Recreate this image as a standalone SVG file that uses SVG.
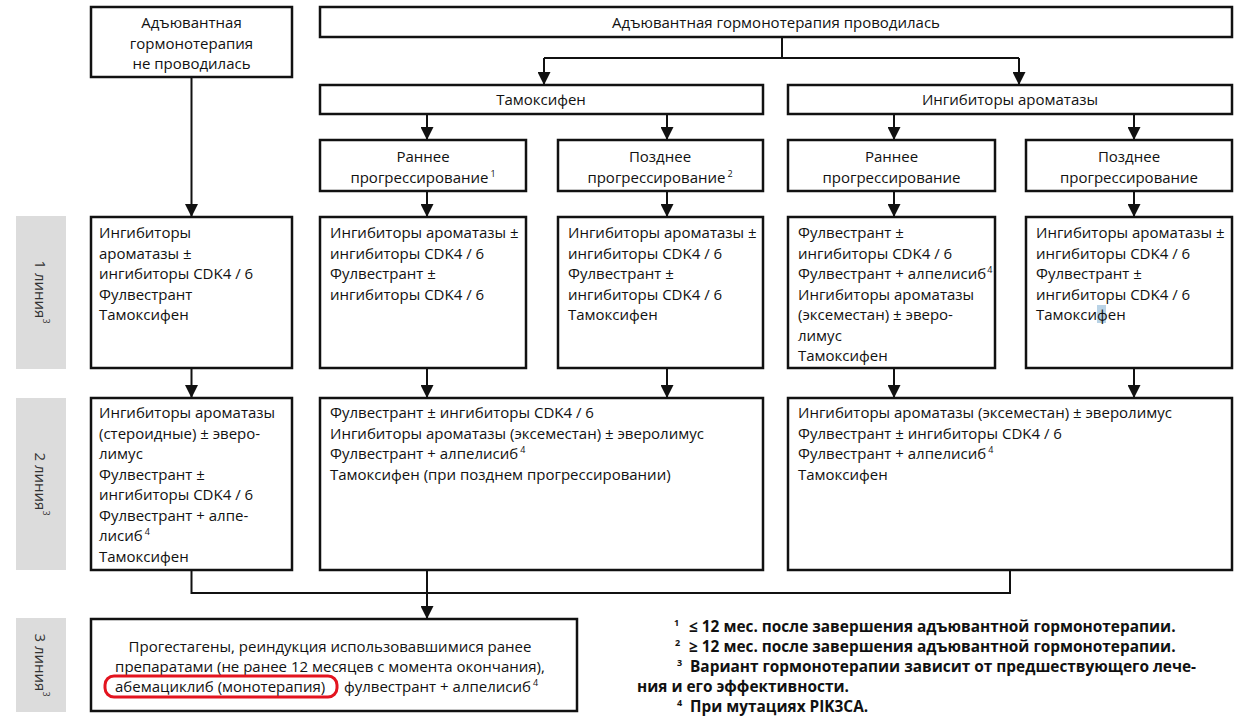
<svg xmlns="http://www.w3.org/2000/svg" width="1248" height="726" viewBox="0 0 1248 726">
<style>
.bg{fill:#ffffff}
.box{fill:#ffffff;stroke:#111;stroke-width:2.5}
.lab{fill:#dcdcdc}
.t{font-family:"Open Sans","Noto Sans",sans-serif;font-size:15px;fill:#111}
.c{text-anchor:middle}
.b{font-weight:bold;font-size:15.4px}
.s{font-size:9px}
.side{font-family:"Open Sans","Noto Sans",sans-serif;font-size:15px;fill:#333;text-anchor:middle;dominant-baseline:central}
.ln{fill:none;stroke:#111;stroke-width:2}
.hl{fill:none;stroke:#e3141f;stroke-width:3}
</style>
<defs>
<marker id="ah" markerUnits="userSpaceOnUse" markerWidth="13" markerHeight="13" refX="13" refY="6.5" orient="auto">
<path d="M0,0 L13,6.5 L0,13 z" fill="#111"/>
</marker>
</defs>
<rect class="bg" x="0" y="0" width="1248" height="726"/>

<g id="connectors">
<path class="ln" d="M191.5,77 V217" marker-end="url(#ah)"/>
<path class="ln" d="M782,37 V58 M544,58 H1019"/>
<path class="ln" d="M544,58 V85" marker-end="url(#ah)"/>
<path class="ln" d="M1019,58 V85" marker-end="url(#ah)"/>
<path class="ln" d="M427,114 V140" marker-end="url(#ah)"/>
<path class="ln" d="M667,114 V140" marker-end="url(#ah)"/>
<path class="ln" d="M894,114 V140" marker-end="url(#ah)"/>
<path class="ln" d="M1134,114 V140" marker-end="url(#ah)"/>
<path class="ln" d="M427,191 V217" marker-end="url(#ah)"/>
<path class="ln" d="M667,191 V217" marker-end="url(#ah)"/>
<path class="ln" d="M894,191 V217" marker-end="url(#ah)"/>
<path class="ln" d="M1134,191 V217" marker-end="url(#ah)"/>
<path class="ln" d="M191.5,368 V398" marker-end="url(#ah)"/>
<path class="ln" d="M427,368 V398" marker-end="url(#ah)"/>
<path class="ln" d="M667,368 V398" marker-end="url(#ah)"/>
<path class="ln" d="M894,368 V398" marker-end="url(#ah)"/>
<path class="ln" d="M1134,368 V398" marker-end="url(#ah)"/>
<path class="ln" d="M191.5,570 V593 H1010 V570"/>
<path class="ln" d="M427,570 V619" marker-end="url(#ah)"/>
</g>

<g id="side-labels">
<rect class="lab" x="16" y="216" width="50" height="153"/>
<text class="side" transform="translate(41,292) rotate(90)">1 линия<tspan class="s" dy="-6">3</tspan></text>
<rect class="lab" x="16" y="398" width="50" height="172"/>
<text class="side" transform="translate(41,484) rotate(90)">2 линия<tspan class="s" dy="-6">3</tspan></text>
<rect class="lab" x="16" y="618" width="50" height="94"/>
<text class="side" transform="translate(41,665) rotate(90)">3 линия<tspan class="s" dy="-6">3</tspan></text>
</g>

<g id="n-no-adj">
<rect class="box" x="91" y="7" width="201" height="70"/>
<text class="t c"><tspan x="191.5" y="28">Адъювантная</tspan><tspan x="191.5" y="49">гормонотерапия</tspan><tspan x="191.5" y="69">не проводилась</tspan></text>
</g>

<g id="n-adj">
<rect class="box" x="320" y="7" width="912" height="30"/>
<text class="t c" x="776" y="28">Адъювантная гормонотерапия проводилась</text>
</g>

<g id="n-tam">
<rect class="box" x="320" y="85" width="443" height="29"/>
<text class="t c" x="541" y="105">Тамоксифен</text>
</g>

<g id="n-ia">
<rect class="box" x="788" y="85" width="444" height="29"/>
<text class="t c" x="1010" y="105">Ингибиторы ароматазы</text>
</g>

<g id="n-tam-early">
<rect class="box" x="320" y="140" width="206" height="51"/>
<text class="t c"><tspan x="423" y="162">Раннее</tspan><tspan x="423" y="183">прогрессирование<tspan class="s" dx="2" dy="-6">1</tspan></tspan></text>
</g>

<g id="n-tam-late">
<rect class="box" x="558" y="140" width="205" height="51"/>
<text class="t c"><tspan x="660" y="162">Позднее</tspan><tspan x="660" y="183">прогрессирование<tspan class="s" dx="2" dy="-6">2</tspan></tspan></text>
</g>

<g id="n-ia-early">
<rect class="box" x="788" y="140" width="207" height="51"/>
<text class="t c"><tspan x="891.5" y="162">Раннее</tspan><tspan x="891.5" y="183">прогрессирование</tspan></text>
</g>

<g id="n-ia-late">
<rect class="box" x="1026" y="140" width="206" height="51"/>
<text class="t c"><tspan x="1129" y="162">Позднее</tspan><tspan x="1129" y="183">прогрессирование</tspan></text>
</g>

<g id="l1-none">
<rect class="box" x="91" y="217" width="201" height="151"/>
<text class="t"><tspan x="99" y="238">Ингибиторы</tspan><tspan x="99" y="258.5">ароматазы ±</tspan><tspan x="99" y="279">ингибиторы CDK4 / 6</tspan><tspan x="99" y="299.5">Фулвестрант</tspan><tspan x="99" y="320">Тамоксифен</tspan></text>
</g>

<g id="l1-tam-early">
<rect class="box" x="320" y="217" width="206" height="151"/>
<text class="t"><tspan x="330" y="238">Ингибиторы ароматазы ±</tspan><tspan x="330" y="258.5">ингибиторы CDK4 / 6</tspan><tspan x="330" y="279">Фулвестрант ±</tspan><tspan x="330" y="299.5">ингибиторы CDK4 / 6</tspan></text>
</g>

<g id="l1-tam-late">
<rect class="box" x="558" y="217" width="205" height="151"/>
<text class="t"><tspan x="568" y="238">Ингибиторы ароматазы ±</tspan><tspan x="568" y="258.5">ингибиторы CDK4 / 6</tspan><tspan x="568" y="279">Фулвестрант ±</tspan><tspan x="568" y="299.5">ингибиторы CDK4 / 6</tspan><tspan x="568" y="320">Тамоксифен</tspan></text>
</g>

<g id="l1-ia-early">
<rect class="box" x="788" y="217" width="207" height="151"/>
<text class="t"><tspan x="798" y="238">Фулвестрант ±</tspan><tspan x="798" y="258.5">ингибиторы CDK4 / 6</tspan><tspan x="798" y="279">Фулвестрант + алпелисиб<tspan class="s" dx="1" dy="-6">4</tspan></tspan><tspan x="798" y="299.5">Ингибиторы ароматазы</tspan><tspan x="798" y="320">(эксеместан) ± эверо-</tspan><tspan x="798" y="340.5">лимус</tspan><tspan x="798" y="361">Тамоксифен</tspan></text>
</g>

<g id="l1-ia-late">
<rect class="box" x="1026" y="217" width="206" height="151"/>
<rect x="1097" y="305" width="9" height="18" fill="#b9d3e6"/>
<text class="t"><tspan x="1036" y="238">Ингибиторы ароматазы ±</tspan><tspan x="1036" y="258.5">ингибиторы CDK4 / 6</tspan><tspan x="1036" y="279">Фулвестрант ±</tspan><tspan x="1036" y="299.5">ингибиторы CDK4 / 6</tspan><tspan x="1036" y="320">Тамоксифен</tspan></text>
</g>

<g id="l2-none">
<rect class="box" x="91" y="398" width="201" height="172"/>
<text class="t"><tspan x="99" y="418">Ингибиторы ароматазы</tspan><tspan x="99" y="438.5">(стероидные) ± эверо-</tspan><tspan x="99" y="459">лимус</tspan><tspan x="99" y="479.5">Фулвестрант ±</tspan><tspan x="99" y="500">ингибиторы CDK4 / 6</tspan><tspan x="99" y="520.5">Фулвестрант + алпе-</tspan><tspan x="99" y="541">лисиб<tspan class="s" dx="2" dy="-6">4</tspan></tspan><tspan x="99" y="561.5">Тамоксифен</tspan></text>
</g>

<g id="l2-tam">
<rect class="box" x="320" y="398" width="443" height="172"/>
<text class="t"><tspan x="330" y="418">Фулвестрант ± ингибиторы CDK4 / 6</tspan><tspan x="330" y="438.5">Ингибиторы ароматазы (эксеместан) ± эверолимус</tspan><tspan x="330" y="459">Фулвестрант + алпелисиб<tspan class="s" dx="2" dy="-6">4</tspan></tspan><tspan x="330" y="479.5">Тамоксифен (при позднем прогрессировании)</tspan></text>
</g>

<g id="l2-ia">
<rect class="box" x="788" y="398" width="444" height="172"/>
<text class="t"><tspan x="798" y="418">Ингибиторы ароматазы (эксеместан) ± эверолимус</tspan><tspan x="798" y="438.5">Фулвестрант ± ингибиторы CDK4 / 6</tspan><tspan x="798" y="459">Фулвестрант + алпелисиб<tspan class="s" dx="2" dy="-6">4</tspan></tspan><tspan x="798" y="479.5">Тамоксифен</tspan></text>
</g>

<g id="l3">
<rect class="box" x="91" y="619" width="486" height="92"/>
<text class="t c"><tspan x="330" y="652">Прогестагены, реиндукция использовавшимися ранее</tspan><tspan x="330" y="672">препаратами (не ранее 12 месяцев с момента окончания),</tspan></text>
<text class="t"><tspan x="115" y="692">абемациклиб (монотерапия)</tspan><tspan x="344" y="692">фулвестрант + алпелисиб<tspan class="s" dx="2" dy="-6">4</tspan></tspan></text>
<rect class="hl" x="105" y="676" width="232" height="21" rx="9"/>
</g>

<g id="footnotes">
<text class="t b"><tspan class="s" x="674" y="626">1</tspan><tspan x="689" y="632">≤ 12 мес. после завершения адъювантной гормонотерапии.</tspan><tspan class="s" x="675" y="646">2</tspan><tspan x="689" y="652">≥ 12 мес. после завершения адъювантной гормонотерапии.</tspan><tspan class="s" x="677" y="666">3</tspan><tspan x="690" y="672">Вариант гормонотерапии зависит от предшествующего лече-</tspan><tspan x="637" y="692">ния и его эффективности.</tspan><tspan class="s" x="677" y="706">4</tspan><tspan x="690" y="712">При мутациях PIK3CA.</tspan></text>
</g>
</svg>
